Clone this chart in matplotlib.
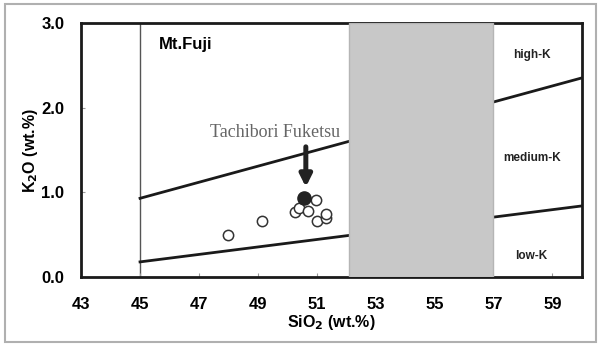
import numpy as np
import matplotlib.pyplot as plt
from matplotlib.patches import Rectangle

plt.rcParams['font.family'] = ['Liberation Sans', 'DejaVu Sans']
plt.rcParams['font.weight'] = 'bold'

# boundary lines (SiO2, K2O)
high_med_x = [45, 60]
high_med_y = [0.93, 2.35]
med_low_x = [45, 60]
med_low_y = [0.18, 0.84]

# samples
open_x = [48.0, 49.15, 50.96, 50.25, 50.40, 50.71, 51.0, 51.3, 51.33]
open_y = [0.50, 0.66, 0.91, 0.77, 0.81, 0.78, 0.66, 0.70, 0.75]
fuketsu_x = [50.57]
fuketsu_y = [0.93]

xticks = [43, 45, 47, 49, 51, 53, 55, 57, 59]
yticks = [0.0, 1.0, 2.0, 3.0]
gap = (52.1, 57.0)

fig = plt.figure(figsize=(6.01, 3.46), dpi=100)
ax = fig.add_axes([0.135, 0.199, 0.833, 0.735])

# outer frame of the picture
fig.patches.append(Rectangle((5 / 601, 4 / 346), 591 / 601, 338 / 346, transform=fig.transFigure,
                             fill=False, edgecolor='#b0b0b0', linewidth=1.5))

ax.plot(high_med_x, high_med_y, color='#1a1a1a', lw=2, zorder=2)
ax.plot(med_low_x, med_low_y, color='#1a1a1a', lw=2, zorder=2)
ax.axvline(45, color='#555555', lw=1, zorder=1)
ax.axvspan(gap[0], gap[1], facecolor='#c8c8c8', edgecolor='#b5b5b5', zorder=4)

ax.scatter(open_x, open_y, s=55, facecolors='white', edgecolors='#333333', linewidths=1.1, zorder=5)
ax.scatter(fuketsu_x, fuketsu_y, s=90, color='#222222', zorder=6)

ax.annotate('', xy=(50.63, 1.03), xytext=(50.63, 1.57),
            arrowprops=dict(arrowstyle='-|>,head_width=0.35,head_length=0.7', color='#222222', lw=3.6),
            zorder=6)
ax.text(49.58, 1.65, 'Tachibori Fuketsu', family=['Liberation Serif', 'DejaVu Serif'], fontweight='normal',
        fontsize=13, color='#666666', ha='center', va='baseline')

ax.text(45.65, 2.74, 'Mt.Fuji', fontsize=12, fontweight='bold', va='center')
ax.text(58.3, 2.62, 'high-K', fontsize=8.5, ha='center', va='center', color='#222222')
ax.text(58.3, 1.40, 'medium-K', fontsize=8.5, ha='center', va='center', color='#222222')
ax.text(58.3, 0.25, 'low-K', fontsize=8.5, ha='center', va='center', color='#222222')

ax.set_xlim(43, 60)
ax.set_ylim(0, 3)
ax.set_xticks(xticks)
ax.set_xticklabels([str(t) for t in xticks])
ax.set_yticks(yticks)
ax.set_yticklabels(['%.1f' % t for t in yticks])
ax.tick_params(direction='in', length=3, color='#999999', labelsize=12)
ax.tick_params(axis='x', pad=14)
ax.tick_params(axis='y', pad=12)
for s in ax.spines.values():
    s.set_linewidth(2)
    s.set_color('#1a1a1a')

ax.set_xlabel('SiO$_2$ (wt.%)', fontsize=11.5, fontweight='bold', labelpad=1)
ax.set_ylabel('K$_2$O (wt.%)', fontsize=11.5, fontweight='bold', labelpad=1)

fig.savefig('out.png', dpi=100)
